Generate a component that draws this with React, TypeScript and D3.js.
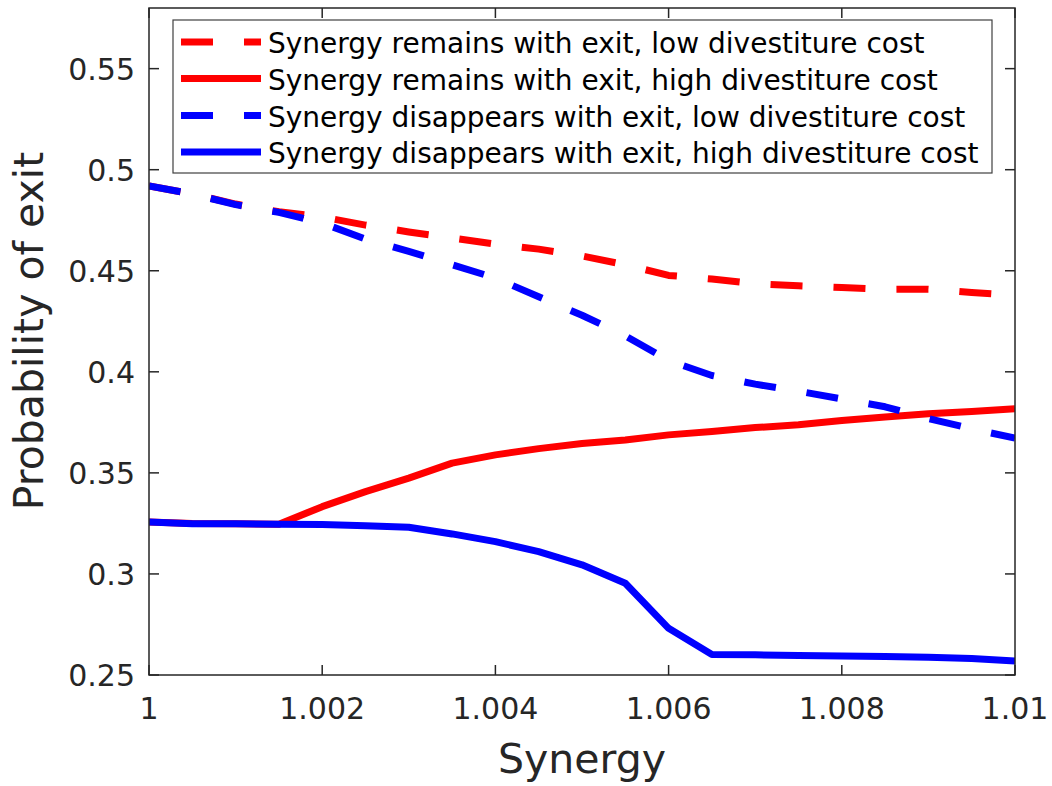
import React from "react";
import * as d3 from "d3";

// Synergy parameter (x) values
const synergy = [
  1, 1.0005, 1.001, 1.0015, 1.002, 1.0025, 1.003, 1.0035, 1.004, 1.0045, 1.005,
  1.0055, 1.006, 1.0065, 1.007, 1.0075, 1.008, 1.0085, 1.009, 1.0095, 1.01,
];

// Probability of exit for each scenario
const remainsLow = [
  0.492, 0.488, 0.483, 0.4792, 0.4766, 0.4726, 0.4692, 0.4662, 0.4632, 0.4607, 0.4573,
  0.453, 0.4477, 0.4459, 0.4436, 0.4426, 0.4417, 0.4408, 0.4409, 0.4392, 0.4378,
];
const remainsHigh = [
  0.3257, 0.325, 0.3248, 0.3246, 0.3333, 0.3407, 0.3474, 0.3548, 0.3589, 0.362, 0.3645,
  0.3663, 0.3688, 0.3705, 0.3724, 0.3738, 0.3759, 0.3776, 0.3792, 0.3804, 0.3817,
];
const disappearsLow = [
  0.492, 0.488, 0.4827, 0.4789, 0.4736, 0.4657, 0.4596, 0.453, 0.4464, 0.4371, 0.428,
  0.4178, 0.4056, 0.3982, 0.3939, 0.3904, 0.3866, 0.3827, 0.3769, 0.3718, 0.3672,
];
const disappearsHigh = [
  0.3257, 0.3248, 0.3248, 0.3246, 0.3244, 0.3239, 0.3231, 0.3198, 0.316, 0.311, 0.3045,
  0.2954, 0.2731, 0.2602, 0.26, 0.2597, 0.2594, 0.2591, 0.2588, 0.2582, 0.2569,
];

const seriesNames = [
  "Synergy remains with exit, low divestiture cost",
  "Synergy remains with exit, high divestiture cost",
  "Synergy disappears with exit, low divestiture cost",
  "Synergy disappears with exit, high divestiture cost",
];
const seriesColors = ["#ff0000", "#ff0000", "#0000ff", "#0000ff"];
const seriesDashed = [true, false, true, false];
const seriesValues = [remainsLow, remainsHigh, disappearsLow, disappearsHigh];

const xTicks = [1, 1.002, 1.004, 1.006, 1.008, 1.01];
const xTickLabels = ["1", "1.002", "1.004", "1.006", "1.008", "1.01"];
const yTicks = [0.25, 0.3, 0.35, 0.4, 0.45, 0.5, 0.55];
const yTickLabels = ["0.25", "0.3", "0.35", "0.4", "0.45", "0.5", "0.55"];

const W = 1052;
const H = 786;
const left = 149;
const right = 1015;
const top = 8;
const bottom = 675;
const font = "'DejaVu Sans', Verdana, sans-serif";
const axisColor = "#262626";
const lineW = 7;
const dash = "32,31";
const tickLen = 10;

export default function App() {
  const x = d3.scaleLinear().domain([1, 1.01]).range([left, right]);
  const y = d3.scaleLinear().domain([0.25, 0.58]).range([bottom, top]);

  const line = d3
    .line<number>()
    .x((_, i) => x(synergy[i]))
    .y((d) => y(d));

  const legendRows = [42, 78.5, 115.5, 152];

  return (
    <svg
      width={W}
      height={H}
      style={{ position: "absolute", left: 0, top: 0, background: "#fff" }}
      fontFamily={font}
    >
      <rect x={0} y={0} width={W} height={H} fill="#fff" />
      <defs>
        <clipPath id="plotArea">
          <rect x={left} y={top} width={right - left} height={bottom - top} />
        </clipPath>
      </defs>

      {/* data lines */}
      <g clipPath="url(#plotArea)">
        {seriesValues.map((vals, k) => (
          <path
            key={k}
            d={line(vals) || ""}
            fill="none"
            stroke={seriesColors[k]}
            strokeWidth={lineW}
            strokeDasharray={seriesDashed[k] ? dash : undefined}
            strokeLinejoin="round"
            strokeLinecap="butt"
          />
        ))}
      </g>

      {/* axes box */}
      <rect
        x={left}
        y={top}
        width={right - left}
        height={bottom - top}
        fill="none"
        stroke={axisColor}
        strokeWidth={1.5}
      />

      {/* x ticks */}
      {xTicks.map((t, i) => (
        <g key={"x" + i}>
          <line x1={x(t)} x2={x(t)} y1={bottom} y2={bottom - tickLen} stroke={axisColor} strokeWidth={1.5} />
          <line x1={x(t)} x2={x(t)} y1={top} y2={top + tickLen} stroke={axisColor} strokeWidth={1.5} />
          <text x={x(t)} y={719} textAnchor="middle" fontSize={30} fill={axisColor}>
            {xTickLabels[i]}
          </text>
        </g>
      ))}

      {/* y ticks */}
      {yTicks.map((t, i) => (
        <g key={"y" + i}>
          <line x1={left} x2={left + tickLen} y1={y(t)} y2={y(t)} stroke={axisColor} strokeWidth={1.5} />
          <line x1={right} x2={right - tickLen} y1={y(t)} y2={y(t)} stroke={axisColor} strokeWidth={1.5} />
          <text x={135} y={y(t) + 11} textAnchor="end" fontSize={30} fill={axisColor}>
            {yTickLabels[i]}
          </text>
        </g>
      ))}

      {/* axis labels */}
      <text x={(left + right) / 2} y={773} textAnchor="middle" fontSize={41} fill={axisColor}>
        Synergy
      </text>
      <text
        transform={`translate(43,${(150 + 512) / 2}) rotate(-90)`}
        textAnchor="middle"
        fontSize={41}
        fill={axisColor}
      >
        Probability of exit
      </text>

      {/* legend */}
      <rect x={173} y={20} width={819} height={153} fill="#fff" stroke="#404040" strokeWidth={1.2} />
      {seriesNames.map((name, k) => (
        <g key={"l" + k}>
          <line
            x1={181}
            x2={261}
            y1={legendRows[k]}
            y2={legendRows[k]}
            stroke={seriesColors[k]}
            strokeWidth={lineW}
            strokeDasharray={seriesDashed[k] ? dash : undefined}
          />
          <text x={268} y={legendRows[k] + 11} fontSize={28} fill="#000">
            {name}
          </text>
        </g>
      ))}
    </svg>
  );
}
